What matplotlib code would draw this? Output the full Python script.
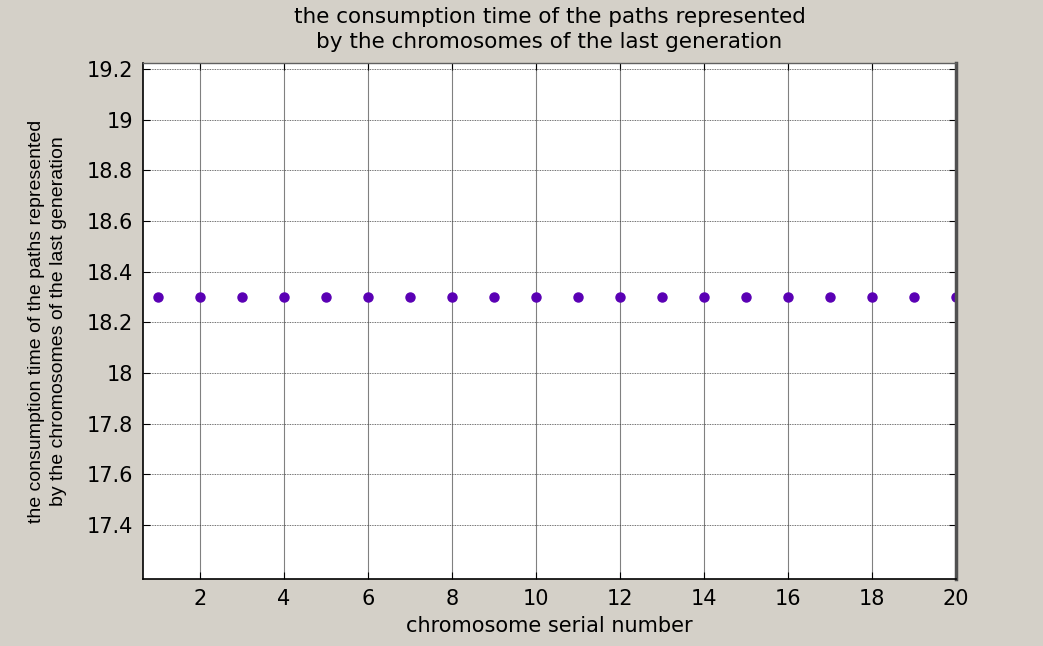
import numpy as np
import matplotlib
matplotlib.use("Agg")
import matplotlib.pyplot as plt

# ================== data ==================
serial = list(range(1, 21))
times = [18.3] * 20
xticks = [2, 4, 6, 8, 10, 12, 14, 16, 18, 20]
yticks = [17.4, 17.6, 17.8, 18.0, 18.2, 18.4, 18.6, 18.8, 19.0, 19.2]
ytick_labels = ["17.4", "17.6", "17.8", "18", "18.2", "18.4", "18.6", "18.8", "19", "19.2"]

# the source picture is stretched sideways, so the wider DejaVu stands in for Arial
plt.rcParams['font.family'] = ['DejaVu Sans']

fig = plt.figure(figsize=(10.43, 6.46), dpi=100, facecolor="#d4d0c8")
ax = fig.add_axes([143 / 1043, 1 - 579 / 646, (956 - 143) / 1043, (579 - 63) / 646])
ax.set_facecolor("white")

ax.plot(serial, times, linestyle="none", marker="o", markersize=6.5,
        color="#5a00b4", markeredgecolor="#5a00b4")

ax.set_xlim(0.64, 20)
ax.set_ylim(17.187, 19.224)
ax.set_xticks(xticks)
ax.set_yticks(yticks)
ax.set_yticklabels(ytick_labels)

ax.grid(axis="x", color="#808080", linestyle="-", linewidth=0.8)
ax.grid(axis="y", color="#404040", linestyle=(0, (1, 1)), linewidth=0.6)

ax.tick_params(direction="in", length=5, labelsize=15, colors="black",
               top=True, right=True, pad=7)

for side in ["left", "bottom"]:
    ax.spines[side].set_color("black")
    ax.spines[side].set_linewidth(1.2)
ax.spines["top"].set_color("#606060")
ax.spines["top"].set_linewidth(1.0)
ax.spines["right"].set_color("#505050")
ax.spines["right"].set_linewidth(2.5)

ax.set_title("the consumption time of the paths represented\nby the chromosomes of the last generation",
             fontsize=15.5, pad=11, linespacing=1.3)
ax.set_xlabel("chromosome serial number", fontsize=15, labelpad=5)
ax.set_ylabel("the consumption time of the paths represented\nby the chromosomes of the last generation",
              fontsize=14, fontfamily='Liberation Sans', labelpad=14, linespacing=1.4)

fig.savefig("out.png", dpi=100, facecolor=fig.get_facecolor())
